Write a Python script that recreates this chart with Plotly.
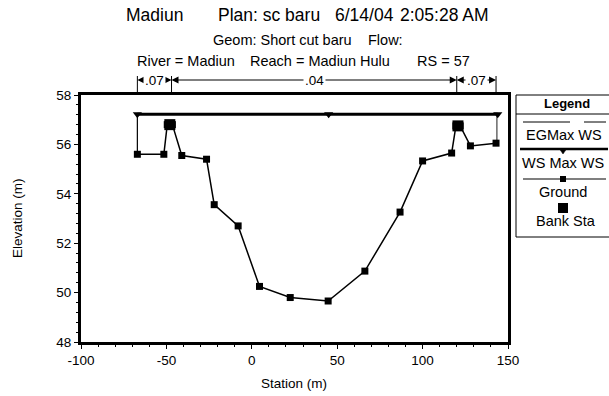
import plotly.graph_objects as go

# ---- data ----
ground_x = [-67, -51.5, -49.5, -46.5, -41, -26.5, -22, -8, 4.5, 22.5, 44.7, 66.2, 86.8, 100, 117, 119.5, 122, 128, 143]
ground_y = [55.6, 55.6, 56.8, 56.8, 55.55, 55.4, 53.56, 52.7, 50.25, 49.8, 49.66, 50.87, 53.26, 55.33, 55.65, 56.75, 56.75, 55.94, 56.05]
ws_x = [-67, 45, 144]
ws_y = [57.22, 57.22, 57.22]
eg_x = [-67, 144]
eg_y = [57.23, 57.23]
wall_left_x = [-67, -67]
wall_left_y = [55.6, 57.22]
wall_right_x = [143.5, 143.5]
wall_right_y = [56.05, 57.22]
bank_x = [-48, 120.7]
bank_y = [56.8, 56.75]
n_breaks = [-67, -47, 120, 143]
n_values = [".07", ".04", ".07"]
x_ticks = [-100, -50, 0, 50, 100, 150]
y_ticks = [48, 50, 52, 54, 56, 58]

FONT = "Liberation Sans, Arial, sans-serif"

fig = go.Figure()
fig.add_trace(go.Scatter(x=wall_left_x, y=wall_left_y, mode="lines",
                         line=dict(color="black", width=1.2), showlegend=False))
fig.add_trace(go.Scatter(x=wall_right_x, y=wall_right_y, mode="lines",
                         line=dict(color="#444", width=1.2), showlegend=False))
fig.add_trace(go.Scatter(x=eg_x, y=eg_y, mode="lines",
                         line=dict(color="black", width=1), showlegend=False))
fig.add_trace(go.Scatter(x=ws_x, y=ws_y, mode="lines+markers",
                         line=dict(color="black", width=3),
                         marker=dict(symbol="triangle-down", size=8, color="black"),
                         showlegend=False))
fig.add_trace(go.Scatter(x=ground_x, y=ground_y, mode="lines+markers",
                         line=dict(color="black", width=1.5),
                         marker=dict(symbol="square", size=7, color="black"),
                         showlegend=False))
fig.add_trace(go.Scatter(x=bank_x, y=bank_y, mode="markers",
                         marker=dict(symbol="square", size=11, color="black"),
                         showlegend=False))

L, R, T, B = 81, 101, 95, 54
W, H = 609, 396
pw, ph = W - L - R, H - T - B

def px(x):
    return (x - L) / pw

def py(y):
    return (H - B - y) / ph

shapes = []
ann = []

def text(txt, x, y, size, anchor="center", angle=0):
    ann.append(dict(text=txt, x=px(x), y=py(y), xref="paper", yref="paper",
                    xanchor=anchor, yanchor="middle", showarrow=False, textangle=angle,
                    font=dict(family=FONT, size=size, color="black")))

# titles
title_rows = [
    ("Madiun", 124, 15, 17.5), ("Plan: sc baru", 216, 15, 17.5),
    ("6/14/04", 333, 15, 17.5), ("2:05:28 AM", 398, 15, 17.5),
    ("Geom:\u00a0Short cut baru", 211, 40, 14.5), ("Flow:", 366, 40, 14.5),
    ("River = Madiun", 135, 61, 14.5), ("Reach = Madiun Hulu", 248, 61, 14.5),
    ("RS = 57", 415, 61, 14.5),
]
for txt, xx, yy, fs in title_rows:
    text(txt, xx, yy, fs, anchor="left")

# Manning's n bars
ny = py(80)
for xb in n_breaks:
    shapes.append(dict(type="line", xref="x", yref="paper", x0=xb, x1=xb,
                       y0=1.0, y1=py(76), line=dict(color="black", width=1)))
for i, val in enumerate(n_values):
    a, b = n_breaks[i], n_breaks[i + 1]
    mid = (a + b) / 2
    for end in (a, b):
        ann.append(dict(x=end, y=ny, xref="x", yref="paper", ax=mid, ay=0,
                        axref="x", ayref="pixel", showarrow=True, arrowhead=2,
                        arrowsize=1.4, arrowwidth=1, arrowcolor="black", text=""))
    ann.append(dict(text=val, x=mid, y=ny, xref="x", yref="paper", showarrow=False,
                    xanchor="center", yanchor="middle",
                    bgcolor="white", borderpad=1,
                    font=dict(family=FONT, size=13.5, color="black")))

# axis titles
text("Elevation (m)", 17, 218, 13.5, angle=-90)
text("Station (m)", 294, 383, 13.5)

# legend box
shapes.append(dict(type="rect", xref="paper", yref="paper", x0=px(516), x1=px(640),
                   y0=py(237), y1=py(95), line=dict(color="black", width=1), fillcolor="white",
                   layer="below"))
shapes.append(dict(type="line", xref="paper", yref="paper", x0=px(516), x1=px(640),
                   y0=py(114), y1=py(114), line=dict(color="black", width=1)))
text("<b>Legend</b>", 567, 103, 13)
# EG
shapes.append(dict(type="line", xref="paper", yref="paper", x0=px(523), x1=px(570),
                   y0=py(122), y1=py(122), line=dict(color="black", width=1)))
shapes.append(dict(type="line", xref="paper", yref="paper", x0=px(584), x1=px(606),
                   y0=py(122), y1=py(122), line=dict(color="black", width=1)))
text("EGMax WS", 564, 135, 14.5)
# WS
shapes.append(dict(type="line", xref="paper", yref="paper", x0=px(520), x1=px(608),
                   y0=py(149), y1=py(149), line=dict(color="black", width=2.5)))
shapes.append(dict(type="path", xref="paper", yref="paper",
                   path=f"M {px(559.5)},{py(149)} L {px(566.5)},{py(149)} L {px(563)},{py(154)} Z",
                   fillcolor="black", line=dict(color="black", width=0.5)))
text("WS Max WS", 563, 163, 14.5)
# Ground
shapes.append(dict(type="line", xref="paper", yref="paper", x0=px(523), x1=px(606),
                   y0=py(179), y1=py(179), line=dict(color="black", width=1.2)))
shapes.append(dict(type="rect", xref="paper", yref="paper", x0=px(560), x1=px(566),
                   y0=py(182), y1=py(176), fillcolor="black", line=dict(color="black", width=0)))
text("Ground", 563, 192, 14.5)
# Bank
shapes.append(dict(type="rect", xref="paper", yref="paper", x0=px(558), x1=px(568),
                   y0=py(213), y1=py(203), fillcolor="black", line=dict(color="black", width=0)))
text("Bank Sta", 566, 221, 14.5)

fig.update_layout(
    width=W, height=H, autosize=False,
    margin=dict(l=L, r=R, t=T, b=B),
    paper_bgcolor="white", plot_bgcolor="white",
    showlegend=False,
    shapes=shapes, annotations=ann,
    font=dict(family=FONT, size=13, color="black"),
)
fig.update_xaxes(range=[-100, 150], tickvals=x_ticks, ticktext=[str(v) for v in x_ticks],
                 showgrid=False, zeroline=False, showline=True, linecolor="black", linewidth=3,
                 mirror=True, ticks="outside", ticklen=4, tickwidth=1, tickcolor="black",
                 minor=dict(dtick=10, ticks="outside", ticklen=2, tickcolor="black", showgrid=False),
                 tickfont=dict(family=FONT, size=13.5, color="black"))
fig.update_yaxes(range=[48, 58], tickvals=y_ticks, ticktext=[str(v) for v in y_ticks],
                 showgrid=False, zeroline=False, showline=True, linecolor="black", linewidth=3,
                 mirror=True, ticks="outside", ticklen=4, tickwidth=1, tickcolor="black",
                 minor=dict(tick0=48, dtick=0.4, ticks="outside", ticklen=2, tickcolor="black", showgrid=False),
                 tickfont=dict(family=FONT, size=13.5, color="black"))

fig.write_html("out.html")
